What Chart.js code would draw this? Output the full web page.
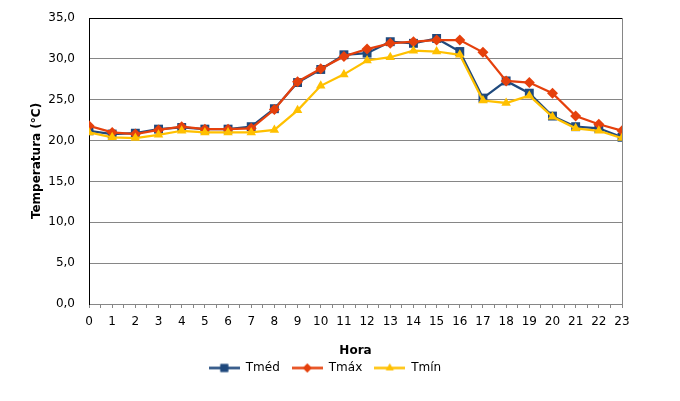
<!DOCTYPE html>
<html>
<head>
<meta charset="utf-8">
<script src="https://cdn.jsdelivr.net/npm/chart.js@4/dist/chart.umd.min.js"></script>
<style>
    html, body { margin: 0; padding: 0; background: #fff; }
    #wrap { width: 680px; height: 401px; }
</style>
</head>
<body>
<div id="wrap"><canvas id="grafico"></canvas></div>
<script>
/* *****
datos
***** */
const horas = [0, 1, 2, 3, 4, 5, 6, 7, 8, 9, 10, 11, 12, 13, 14, 15, 16, 17, 18, 19, 20, 21, 22, 23];
const tMed = [21.2, 20.8, 20.9, 21.4, 21.6, 21.4, 21.4, 21.7, 23.9, 27.1, 28.7, 30.5, 30.7, 32.1, 31.9, 32.5, 30.9, 25.2, 27.3, 25.8, 23.0, 21.7, 21.5, 20.4];
const tMax = [21.8, 21.0, 20.8, 21.3, 21.7, 21.4, 21.4, 21.5, 23.8, 27.2, 28.8, 30.3, 31.2, 31.9, 32.1, 32.3, 32.3, 30.8, 27.3, 27.1, 25.8, 23.0, 22.0, 21.2];
const tMin = [21.0, 20.4, 20.3, 20.7, 21.2, 21.0, 21.0, 21.0, 21.3, 23.7, 26.7, 28.1, 29.8, 30.2, 31.0, 30.9, 30.5, 24.9, 24.6, 25.5, 22.9, 21.5, 21.2, 20.3];
const yTicks = [0, 5, 10, 15, 20, 25, 30, 35];

const series = ['Tméd', 'Tmáx', 'Tmín'];
const colores = ['#1f497d', '#e5400c', '#ffc000'];
const formas = ['rect', 'rectRot', 'triangle'];

const fuente = "'DejaVu Sans', Verdana, sans-serif";
const gris = '#868686';

//arma los puntos x/y para el eje lineal
const toPoints = (valores) => horas.map((h, i) => ({ x: h, y: valores[i] }));

//icono de la leyenda: linea con el marcador al medio
const iconoLeyenda = (color, forma) => {
    const c = document.createElement('canvas');
    c.width = 31;
    c.height = 11;
    const ctx = c.getContext('2d');
    ctx.strokeStyle = color;
    ctx.fillStyle = color;
    ctx.lineWidth = 2.5;
    ctx.beginPath();
    ctx.moveTo(0, 5.5);
    ctx.lineTo(31, 5.5);
    ctx.stroke();
    Chart.helpers.drawPoint(ctx, { pointStyle: forma, radius: forma === 'rect' ? 5.5 : 4.5, rotation: 0, borderWidth: 0 }, 15.5, 5.5);
    ctx.fill();
    return c;
};

//borde derecho del area del grafico
const bordeDerecho = {
    id: 'bordeDerecho',
    afterDraw: (chart) => {
        const { ctx, chartArea } = chart;
        ctx.save();
        ctx.strokeStyle = gris;
        ctx.lineWidth = 1;
        ctx.beginPath();
        ctx.moveTo(chartArea.right + 0.5, chartArea.top);
        ctx.lineTo(chartArea.right + 0.5, chartArea.bottom);
        ctx.stroke();
        ctx.restore();
    }
};

const datos = [tMed, tMax, tMin];
const datasets = datos.map((d, i) => ({
    label: series[i],
    data: toPoints(d),
    borderColor: colores[i],
    backgroundColor: colores[i],
    pointBackgroundColor: colores[i],
    pointBorderColor: colores[i],
    pointStyle: formas[i],
    pointRadius: i === 0 ? 6.3 : 5.5,
    pointBorderWidth: 0,
    borderWidth: 2.25,
    tension: 0,
    order: 3 - i
}));

Chart.defaults.font.family = fuente;
Chart.defaults.font.size = 12;
Chart.defaults.color = '#000';

const config = {
    type: 'line',
    data: { datasets: datasets },
    options: {
        responsive: true,
        maintainAspectRatio: false,
        animation: false,
        layout: { padding: { top: 18, left: 28, right: 58, bottom: 17 } },
        plugins: {
            tooltip: { enabled: false },
            legend: {
                position: 'bottom',
                labels: {
                    usePointStyle: true,
                    pointStyleWidth: 31,
                    padding: 12,
                    font: { size: 12 },
                    generateLabels: (chart) => chart.data.datasets.map((ds, i) => ({
                        text: ds.label,
                        pointStyle: iconoLeyenda(colores[i], formas[i]),
                        fillStyle: colores[i],
                        strokeStyle: colores[i],
                        lineWidth: 0,
                        hidden: false,
                        datasetIndex: i
                    }))
                }
            }
        },
        scales: {
            x: {
                type: 'linear',
                min: horas[0],
                max: horas[horas.length - 1],
                afterFit: (scale) => { scale.height = 46; },
                ticks: {
                    stepSize: 0.5,
                    autoSkip: false,
                    maxRotation: 0,
                    padding: 7,
                    callback: (v) => Number.isInteger(v) ? String(v) : ''
                },
                grid: { drawOnChartArea: false, tickLength: 4, color: gris },
                border: { color: gris, width: 1 },
                title: { display: true, text: 'Hora', font: { weight: 'bold', size: 12 }, padding: { top: 0, bottom: -8 } }
            },
            y: {
                min: yTicks[0],
                max: yTicks[yTicks.length - 1],
                afterBuildTicks: (scale) => { scale.ticks = yTicks.map((v) => ({ value: v })); },
                //ancho fijo y sin relleno vertical extra por el padding de las etiquetas
                afterFit: (scale) => {
                    scale.width = 61;
                    scale.paddingTop = 7;
                    scale.paddingBottom = 7;
                },
                ticks: {
                    padding: 14,
                    callback: (v) => v.toFixed(1).replace('.', ',')
                },
                grid: {
                    drawTicks: false,
                    tickLength: 0,
                    color: (ctx) => ctx.tick && ctx.tick.value === 35 ? '#000' : gris
                },
                border: { color: '#000', width: 1 },
                title: { display: true, text: 'Temperatura (°C)', font: { weight: 'bold', size: 12 }, padding: { top: 2, bottom: 0 } }
            }
        }
    },
    plugins: [bordeDerecho]
};

const grafico = new Chart(document.getElementById('grafico'), config);
</script>
</body>
</html>
